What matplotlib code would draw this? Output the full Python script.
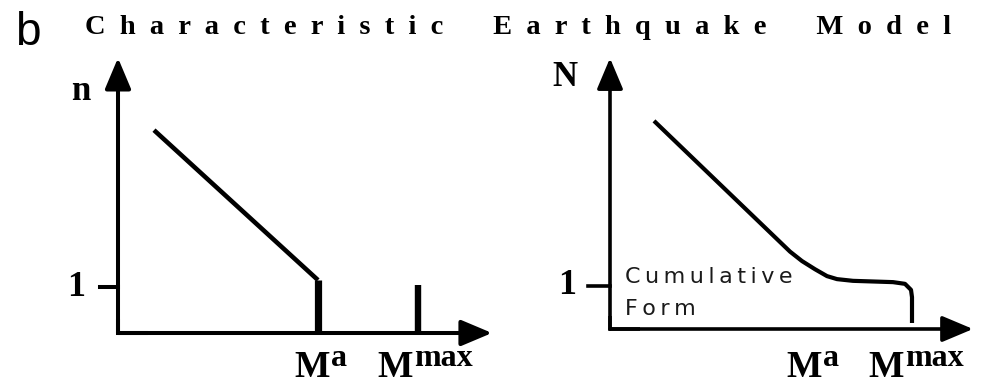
import matplotlib

matplotlib.use("Agg")
import matplotlib.pyplot as plt
from matplotlib.transforms import blended_transform_factory, offset_copy

W, H = 981, 384
SERIF = "Liberation Serif"

# magnitude positions on the x axis (arbitrary units)
left_ma, left_mmax = 2.0, 3.0
right_ma, right_mmax = 2.0, 3.02

# incremental frequency n(M): straight G-R line down to Ma, then a spike at Mmax
inc_x = [0.36, 2.0]
inc_y = [4.41, 1.15]
spike_y = 1.05

# cumulative frequency N(M): G-R line bending into a plateau near N = 1
cum_x = [0.44, 1.80, 1.92, 2.05, 2.17, 2.27, 2.43, 2.83, 2.95, 3.01, 3.02, 3.02]
cum_y = [4.84, 1.80, 1.58, 1.39, 1.23, 1.16, 1.12, 1.09, 1.05, 0.91, 0.74, 0.14]

title = "Characteristic Earthquake Model"


def px_rect(left, bottom_row, width, height):
    """Axes rect from pixel values (bottom_row counted from the top)."""
    return [left / W, (H - bottom_row) / H, width / W, height / H]


def draw_frame(ax, xtip, ytip, lw, tick_len):
    arrow = dict(arrowstyle="-|>,head_length=0.95,head_width=0.4", lw=lw,
                 color="black", shrinkA=0, shrinkB=0, mutation_scale=20)
    ax.annotate("", xy=(xtip, 0), xytext=(0, 0), arrowprops=arrow, annotation_clip=False)
    ax.annotate("", xy=(0, ytip), xytext=(0, 0), arrowprops=arrow, annotation_clip=False)
    ax.plot([0, 0, 0.3], [0.3, 0, 0], color="black", lw=lw, solid_joinstyle="miter",
            solid_capstyle="butt", clip_on=False)
    ax.plot([-tick_len, 0], [1, 1], color="black", lw=lw, clip_on=False)


def mag_label(fig, ax, x, sup, dx):
    trans = blended_transform_factory(ax.transData, fig.transFigure)
    ax.text(x, 0.018, "M", transform=offset_copy(trans, fig, x=dx, units="dots"),
            ha="right", va="baseline", fontsize=27, fontweight="bold", family=SERIF)
    ax.text(x, 0.047, sup, transform=offset_copy(trans, fig, x=dx + 1, units="dots"),
            ha="left", va="baseline", fontsize=23, fontweight="bold", family=SERIF)


fig = plt.figure(figsize=(W / 100, H / 100), dpi=100)

# left: incremental form
ax1 = fig.add_axes(px_rect(118, 333, 400, 280))
ax1.set_xlim(0, 4.0)
ax1.set_ylim(0, 280 / 46)
ax1.axis("off")
draw_frame(ax1, 3.74, 5.98, 2.9, 0.18)
ax1.plot(inc_x, inc_y, color="black", lw=3.3, solid_capstyle="butt")
ax1.plot([inc_x[-1], inc_x[-1]], [inc_y[-1], 0], color="black", lw=5.2, solid_capstyle="butt")
ax1.plot([left_mmax, left_mmax], [0, spike_y], color="black", lw=4.6, solid_capstyle="butt")
ax1.text(-0.42, 1, "1", ha="center", va="center", fontsize=26, fontweight="bold", family=SERIF)
ax1.text(-0.37, 5.25, "n", ha="center", va="center", fontsize=25, fontweight="bold", family=SERIF)
mag_label(fig, ax1, left_ma, "a", 12)
mag_label(fig, ax1, left_mmax, "max", -5)

# right: cumulative form
ax2 = fig.add_axes(px_rect(610, 329, 371, 280))
ax2.set_xlim(0, 3.71)
ax2.set_ylim(0, 280 / 43)
ax2.axis("off")
draw_frame(ax2, 3.63, 6.3, 2.6, 0.22)
ax2.plot(cum_x, cum_y, color="black", lw=3.0, solid_joinstyle="round", solid_capstyle="butt")
ax2.text(-0.43, 1, "1", ha="center", va="center", fontsize=26, fontweight="bold", family=SERIF)
ax2.text(-0.45, 5.85, "N", ha="center", va="center", fontsize=25, fontweight="bold", family=SERIF)
ax2.text(0.15, 1.07, "\u2009".join("Cumulative"), ha="left", va="baseline", fontsize=16,
         family="DejaVu Sans", color="#1a1a1a")
ax2.text(0.15, 0.33, "\u2009".join("Form"), ha="left", va="baseline", fontsize=16,
         family="DejaVu Sans", color="#1a1a1a")
mag_label(fig, ax2, right_ma, "a", 12)
mag_label(fig, ax2, right_mmax, "max", -8)

# panel letter and letter-spaced heading
fig.text(15 / W, 1 - 45 / H, "b", ha="left", va="baseline", fontsize=33, family="Liberation Sans")
spaced = "       ".join("  ".join(word) for word in title.split())
fig.text(85 / W, 1 - 34 / H, spaced, ha="left", va="baseline", fontsize=20.5,
         fontweight="bold", family=SERIF)

fig.savefig("out.png", dpi=100)
